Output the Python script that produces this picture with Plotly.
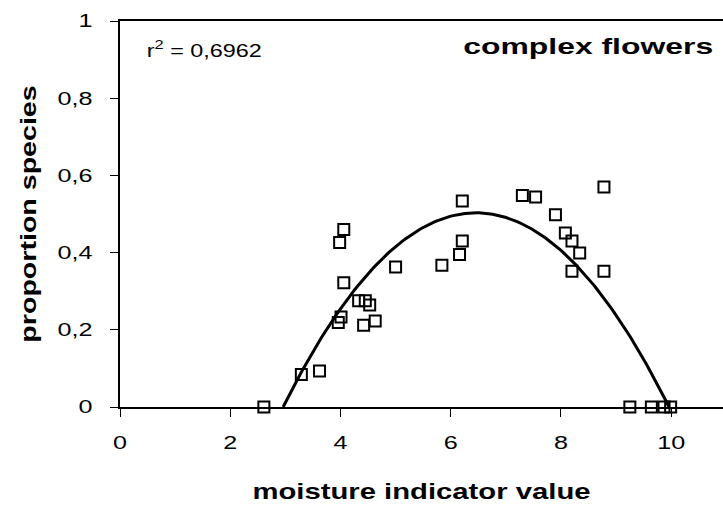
import numpy as np
import plotly.graph_objects as go

# ---- data ----
moisture = [2.61, 3.29, 3.62, 3.96, 4.01, 4.06, 3.985, 4.06, 4.33, 4.45, 4.53, 4.42, 4.63,
            5.00, 5.84, 6.16, 6.21, 6.21, 7.30, 7.54, 7.90, 8.08, 8.20, 8.20, 8.34,
            8.78, 8.78, 9.25, 9.64, 9.87, 9.99]
proportion = [0.0, 0.084, 0.093, 0.219, 0.233, 0.322, 0.426, 0.460, 0.275, 0.275, 0.264, 0.212, 0.223,
              0.363, 0.367, 0.395, 0.430, 0.534, 0.548, 0.544, 0.498, 0.451, 0.430, 0.352, 0.399,
              0.352, 0.570, 0.0, 0.0, 0.0, 0.0]

# quadratic trendline coefficients (y = a x^2 + b x + c), drawn where y >= 0
trend_a, trend_b, trend_c = -0.04106, 0.5305, -1.2105
r2_label = "r<sup>2</sup> = 0,6962"
panel_label = "complex flowers"

x_ticks = [0, 2, 4, 6, 8, 10]
x_ticktext = ["0", "2", "4", "6", "8", "10"]
y_ticks = [0, 0.2, 0.4, 0.6, 0.8, 1]
y_ticktext = ["0", "0,2", "0,4", "0,6", "0,8", "1"]

# trendline between its roots
disc = trend_b ** 2 - 4 * trend_a * trend_c
r1 = (-trend_b + np.sqrt(disc)) / (2 * trend_a)
r2 = (-trend_b - np.sqrt(disc)) / (2 * trend_a)
lo, hi = min(r1, r2), max(r1, r2)
xc = np.linspace(lo, hi, 200)
yc = trend_a * xc ** 2 + trend_b * xc + trend_c

FONT = "Arial, 'Liberation Sans', sans-serif"

fig = go.Figure()
fig.add_trace(go.Scatter(x=xc, y=yc, mode="lines",
                         line=dict(color="black", width=3), hoverinfo="skip",
                         showlegend=False, cliponaxis=False))
fig.add_trace(go.Scatter(x=moisture, y=proportion, mode="markers",
                         marker=dict(symbol="square-open", size=11, color="black",
                                     line=dict(color="black", width=2)),
                         showlegend=False, cliponaxis=False))

fig.update_layout(
    width=723, height=508,
    margin=dict(l=120, r=0, t=21, b=101),
    paper_bgcolor="white", plot_bgcolor="white",
    font=dict(family=FONT, color="black", size=18),
    xaxis=dict(range=[0, 10.94], tickvals=x_ticks, ticktext=x_ticktext,
               showgrid=False, zeroline=False, showline=True, linecolor="black",
               linewidth=2, mirror=True, ticks="outside", ticklen=8, tickwidth=1,
               tickcolor="black", ticklabelstandoff=10,
               tickfont=dict(size=18, family=FONT),
               title=dict(text="moisture indicator value", standoff=32,
                          font=dict(size=22, family=FONT, weight="bold"))),
    yaxis=dict(range=[0, 1], tickvals=y_ticks, ticktext=y_ticktext,
               showgrid=False, zeroline=False, showline=True, linecolor="black",
               linewidth=2, ticks="outside", ticklen=8, tickwidth=1,
               tickcolor="black", ticklabelstandoff=14,
               tickfont=dict(size=18, family=FONT),
               title=dict(text="proportion species", standoff=25,
                          font=dict(size=22, family=FONT, weight="bold"))),
    annotations=[
        dict(text=r2_label, xref="paper", yref="paper", x=0.1405, y=0.927,
             xanchor="center", yanchor="middle", showarrow=False,
             font=dict(size=18, family=FONT, color="black")),
        dict(text=panel_label, xref="paper", yref="paper", x=0.7766, y=0.935,
             xanchor="center", yanchor="middle", showarrow=False,
             font=dict(size=22, family=FONT, color="black", weight="bold")),
    ],
)

post = """
function stretchEl(el, s){
  var x = parseFloat(el.getAttribute('x')||0), y = parseFloat(el.getAttribute('y')||0);
  var t = el.getAttribute('transform')||'';
  el.setAttribute('transform', t + ' translate('+x+','+y+') scale('+s+',1) translate('+(-x)+','+(-y)+')');
}
function stretch(sel, s){
  document.querySelectorAll(sel).forEach(function(el){ stretchEl(el, s); });
}
stretch('.xtick text', 1.4);
stretch('.ytick text', 1.4);
stretch('text.xtitle', 1.33);
stretch('text.ytitle', 1.3);
document.querySelectorAll('.annotation').forEach(function(g, i){
  var t = g.querySelector('.annotation-text');
  if (t) stretchEl(t, (i === 1) ? 1.45 : 1.3);
});
"""

fig.write_html("out.html", post_script=post)
